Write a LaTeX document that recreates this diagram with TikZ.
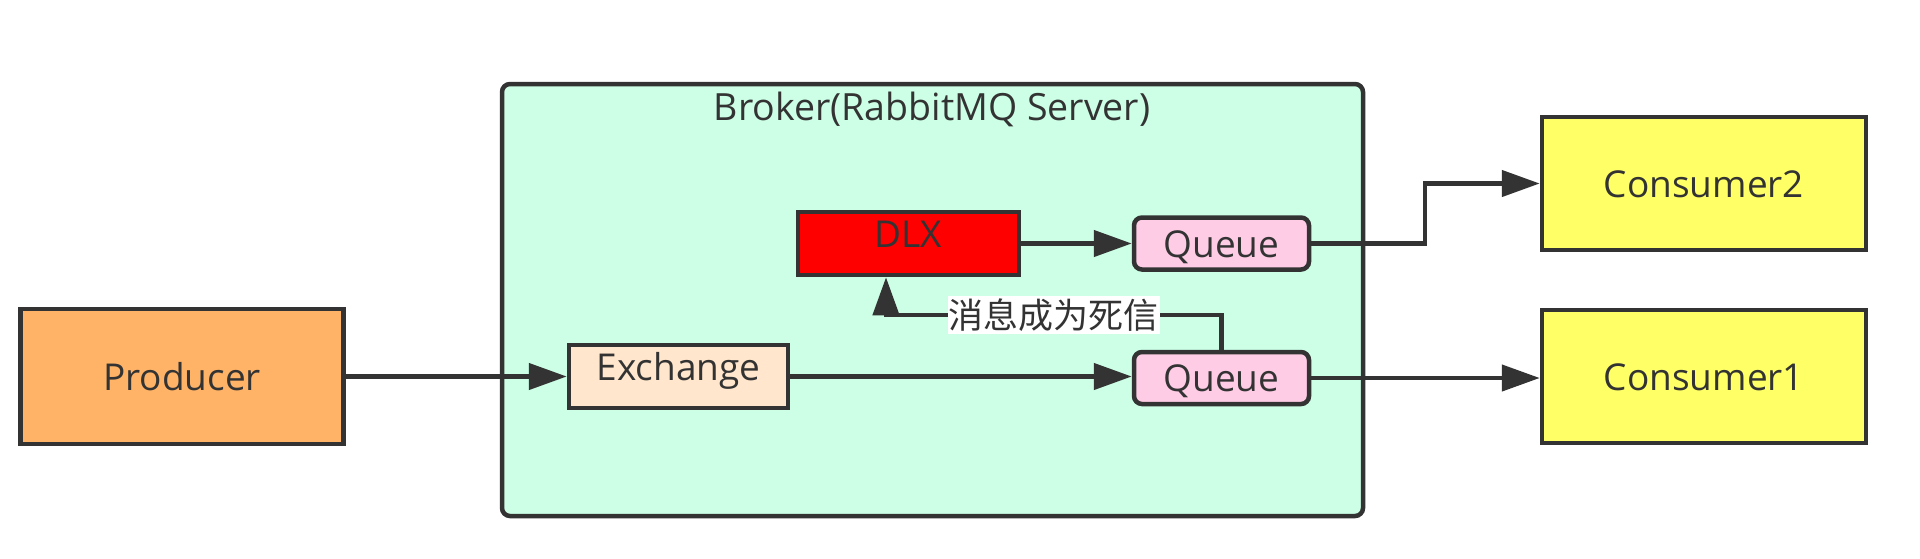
\documentclass[tikz,border=0pt]{standalone}
\usepackage{fontspec}
\setmainfont{Open Sans}
\newfontfamily\cjk{Noto Sans CJK SC}
\usetikzlibrary{arrows.meta}
\definecolor{ink}{HTML}{333333}
\definecolor{brokerfill}{HTML}{CCFFE6}
\definecolor{prodfill}{HTML}{FFB366}
\definecolor{exfill}{HTML}{FFE6CC}
\definecolor{dlxfill}{HTML}{FF0000}
\definecolor{queuefill}{HTML}{FFCCE6}
\definecolor{consfill}{HTML}{FFFF66}
\tikzset{
  box/.style={draw=ink, line width=4.5pt, rectangle, inner sep=0pt, text=ink,
    font=\fontsize{37}{40}\selectfont, text height=27pt, text depth=0pt},
  upper/.style={text height=27pt, text depth=19pt},
  qbox/.style={box, fill=queuefill, rounded corners=8pt, minimum width=175pt, minimum height=52pt},
  cbox/.style={box, fill=consfill, minimum width=324pt, minimum height=133pt},
  arr/.style={draw=ink, line width=4.5pt, -{Triangle[length=38pt,width=26pt]}},
  lab/.style={fill=white, text=ink, inner xsep=1pt, inner ysep=3pt, font=\cjk\fontsize{35}{38}\selectfont}
}
\begin{document}
\begin{tikzpicture}[x=1pt,y=-1pt]
\useasboundingbox (0,0) rectangle (1920,558);
\node[draw=ink, line width=4.5pt, fill=brokerfill, rounded corners=8pt, minimum width=861pt, minimum height=432pt, inner sep=0pt] (broker) at (932.5,300) {};
\node[anchor=base, text=ink, font=\fontsize{37.5}{40}\selectfont, inner sep=0pt] (title) at (932,120) {Broker(RabbitMQ Server)};
\node[box, fill=prodfill, minimum width=323pt, minimum height=135pt] (prod) at (182,376.5) {Producer};
\node[box, upper, fill=exfill, minimum width=219pt, minimum height=63pt] (ex) at (678.5,376.5) {Exchange};
\node[box, upper, fill=dlxfill, minimum width=221pt, minimum height=63pt] (dlx) at (908.5,243.5) {DLX};
\node[qbox] (qt) at (1221.5,243.5) {Queue};
\node[qbox] (qb) at (1221.5,378) {Queue};
\node[cbox] (c2) at (1704,183.5) {Consumer2};
\node[cbox] (c1) at (1704,376.5) {Consumer1};
\coordinate (dl) at (886,315);
\coordinate (bend) at (1425,210);
\draw[arr] (prod.east) -- (ex.west);
\draw[arr] (ex.east) -- (ex.east -| qb.west);
\draw[arr] (dlx.east) -- (dlx.east -| qt.west);
\draw[arr] (qb.east) -- (qb.east -| c1.west);
\draw[arr] (qt.east) -| (bend) |- (c2.west);
\draw[arr] (qb.north) -- (qb.north |- dl) -- node[lab] {消息成为死信} (dl) -- (dl |- dlx.south);
\end{tikzpicture}
\end{document}
